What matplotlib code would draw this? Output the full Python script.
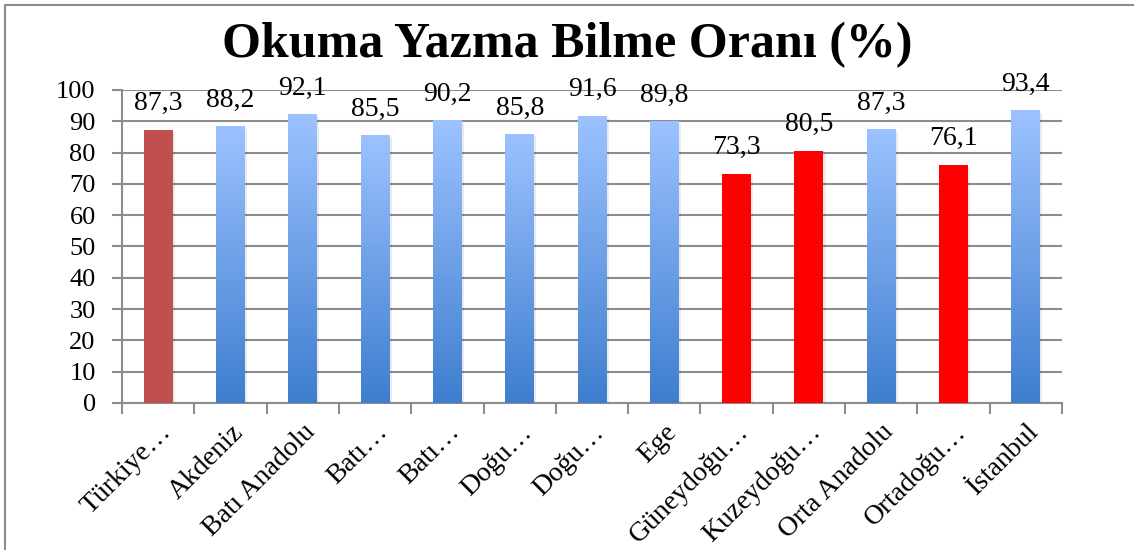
import numpy as np
import matplotlib
matplotlib.use('Agg')
import matplotlib.pyplot as plt
from matplotlib.colors import LinearSegmentedColormap
from matplotlib.patches import Rectangle

# veriler
bolgeler = ['Türkiye…', 'Akdeniz', 'Batı Anadolu', 'Batı…', 'Batı…', 'Doğu…', 'Doğu…',
            'Ege', 'Güneydoğu…', 'Kuzeydoğu…', 'Orta Anadolu', 'Ortadoğu…', 'İstanbul']
oranlar = [87.3, 88.2, 92.1, 85.5, 90.2, 85.8, 91.6, 89.8, 73.3, 80.5, 87.3, 76.1, 93.4]
etiketler = ['87,3', '88,2', '92,1', '85,5', '90,2', '85,8', '91,6', '89,8',
             '73,3', '80,5', '87,3', '76,1', '93,4']
# 'turkiye' = koyu kırmızı, 'dusuk' = kırmızı, 'normal' = mavi gradyan
renk_tipi = ['turkiye', 'normal', 'normal', 'normal', 'normal', 'normal', 'normal',
             'normal', 'dusuk', 'dusuk', 'normal', 'dusuk', 'normal']
y_ticks = [0, 10, 20, 30, 40, 50, 60, 70, 80, 90, 100]

plt.rcParams['font.family'] = ['Liberation Serif', 'DejaVu Serif']

fig = plt.figure(figsize=(11.34, 5.5), dpi=100)
ax = fig.add_axes([0.1076, 0.2673, 0.8289, 0.5691])

# çerçeve
fig.patches.append(Rectangle((5 / 1134, -0.1), 1.2, 1 - 5 / 550 + 0.1,
                             transform=fig.transFigure, fill=False,
                             edgecolor='#8c8c8c', linewidth=1.5))

mavi = LinearSegmentedColormap.from_list('mavi', ['#3e7ecf', '#9cc2ff'])
gradyan = np.linspace(0, 1, 256).reshape(-1, 1)

x = np.arange(len(bolgeler))
genislik = 0.40
renkler = {'turkiye': '#c0504d', 'dusuk': '#ff0000', 'normal': 'none'}

# hafif gölge
ax.bar(x + 0.03, [v - 0.6 for v in oranlar], width=genislik, color='#000000',
       alpha=0.08, zorder=2)

cubuklar = ax.bar(x, oranlar, width=genislik,
                  color=[renkler[t] for t in renk_tipi], zorder=3)
for cubuk, tip in zip(cubuklar, renk_tipi):
    if tip == 'normal':
        x0 = cubuk.get_x()
        ax.imshow(gradyan, cmap=mavi, origin='lower', aspect='auto',
                  extent=[x0, x0 + cubuk.get_width(), 0, cubuk.get_height()],
                  zorder=3)

for xi, v, et in zip(x, oranlar, etiketler):
    ax.annotate(et, (xi, v), xytext=(0, 10), textcoords='offset points',
                ha='center', va='bottom', fontsize=20)

ax.set_xlim(-0.5, len(bolgeler) - 0.5)
ax.set_ylim(0, 100)
ax.set_yticks(y_ticks)
ax.set_yticklabels([str(t) for t in y_ticks], fontsize=19)
ax.grid(axis='y', color='#8c8c8c', linewidth=1.5, zorder=0)
ax.set_axisbelow(True)

ax.set_xticks(x)
ax.set_xticklabels(bolgeler, rotation=45, ha='right', rotation_mode='anchor',
                   fontsize=20)
ax.tick_params(axis='x', length=0, pad=12)
ax.set_xticks(np.arange(-0.5, len(bolgeler)), minor=True)
ax.tick_params(axis='x', which='minor', length=8, width=1.5, color='#8c8c8c')
ax.tick_params(axis='y', length=7, width=1.5, color='#8c8c8c', pad=12)

for s in ['top', 'right']:
    ax.spines[s].set_visible(False)
for s in ['left', 'bottom']:
    ax.spines[s].set_color('#8c8c8c')
    ax.spines[s].set_linewidth(1.5)

fig.text(0.5, 0.918, 'Okuma Yazma Bilme Oranı (%)', ha='center', va='center',
         fontsize=36, fontweight='bold')

fig.savefig('out.png', dpi=100)
